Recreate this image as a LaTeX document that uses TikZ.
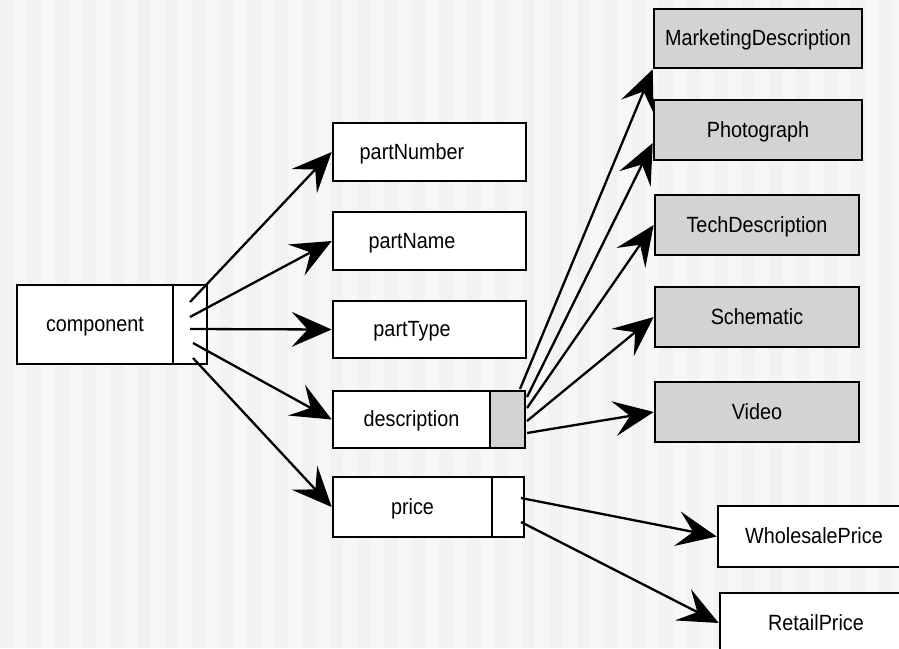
\documentclass[tikz,border=0pt]{standalone}
\usepackage{fontspec}
\newfontfamily\boxfont[FakeStretch=0.9]{Liberation Sans}
\usepackage{tikz}
\usetikzlibrary{arrows.meta}
\definecolor{stripedark}{RGB}{242,242,242}
\definecolor{stripelight}{RGB}{247,247,247}
\definecolor{subgray}{RGB}{211,211,211}
\tikzset{
  box/.style={draw, line width=2.6pt, fill=white, inner sep=0pt, text height=14pt, text depth=0pt,
    font={\boxfont\fontsize{22}{26}\selectfont}},
  subbox/.style={box, fill=subgray},
  link/.style={line width=2.3pt, -{Stealth[length=40pt,width=35pt,inset=16pt]}},
}
\newcommand{\field}[6]{\node[box, minimum width=#4pt, minimum height=#5pt] (#1) at ( #2 , #3 ) {#6};}
\newcommand{\subfield}[6]{\node[subbox, minimum width=#4pt, minimum height=#5pt] (#1) at ( #2 , #3 ) {#6};}
\newcommand{\lefttext}[1]{\makebox[158pt]{#1}\hspace*{35pt}}

\begin{document}
\begin{tikzpicture}[x=1pt,y=-1pt]
            \useasboundingbox (0,0) rectangle (899,648);
            \clip (0,0) rectangle (899,648);

            % stripes
            \fill[stripelight] (0,0) rectangle (899,648);
            \foreach \i in {0,...,32}
                \fill[stripedark] ({\i*27.46},0) rectangle ++(13.73,648);

            % component
            \field{comp}{95}{324.5}{156}{79}{component}
            \field{compptr}{190}{324.5}{34}{79}{}

            % middle column
            \field{pnum}{429.5}{152}{193}{58}{\lefttext{partNumber}}
            \field{pname}{429.5}{241}{193}{58}{\lefttext{partName}}
            \field{ptype}{429.5}{329.5}{193}{57}{\lefttext{partType}}
            \field{desc}{411.5}{419.5}{157}{57}{description}
            \subfield{descptr}{507.5}{419.5}{35}{57}{}
            \field{price}{412.5}{507}{159}{60}{price}
            \field{priceptr}{508}{507}{32}{60}{}

            % right column
            \subfield{mkt}{758}{38.5}{208}{59}{MarketingDescription}
            \subfield{photo}{758}{130}{208}{60}{Photograph}
            \subfield{tech}{757}{225}{204}{60}{TechDescription}
            \subfield{schem}{757}{317}{204}{60}{Schematic}
            \subfield{video}{757}{412}{204}{60}{Video}
            \field{whole}{814}{536.5}{192}{61}{WholesalePrice}
            \field{retail}{816}{623}{192}{60}{RetailPrice}

            % start points
            \coordinate (c1) at (190,302);
            \coordinate (c2) at (190,317);
            \coordinate (c3) at (190,329);
            \coordinate (c4) at (193,343);
            \coordinate (c5) at (193,358);
            \coordinate (d1) at (520,389);
            \coordinate (d2) at (527,397);
            \coordinate (d3) at (527,408);
            \coordinate (d4) at (527,421);
            \coordinate (d5) at (527,433);
            \coordinate (p1) at (521,498);
            \coordinate (p2) at (521,522);

            % component links
            \draw[link] (c1) -- (pnum.west);
            \draw[link] (c2) -- (pname.west);
            \draw[link] (c3) -- (ptype.west);
            \draw[link] (c4) -- (desc.west);
            \draw[link] (c5) -- (price.west);

            % description links
            \draw[link] (d1) -- (mkt.south west);
            \draw[link] (d2) -- ([yshift=-13pt]photo.west);
            \draw[link] (d3) -- (tech.west);
            \draw[link] (d4) -- (schem.west);
            \draw[link] (d5) -- (video.west);

            % price links
            \draw[link] (p1) -- (whole.west);
            \draw[link] (p2) -- (retail.west);

        \end{tikzpicture}
\end{document}
